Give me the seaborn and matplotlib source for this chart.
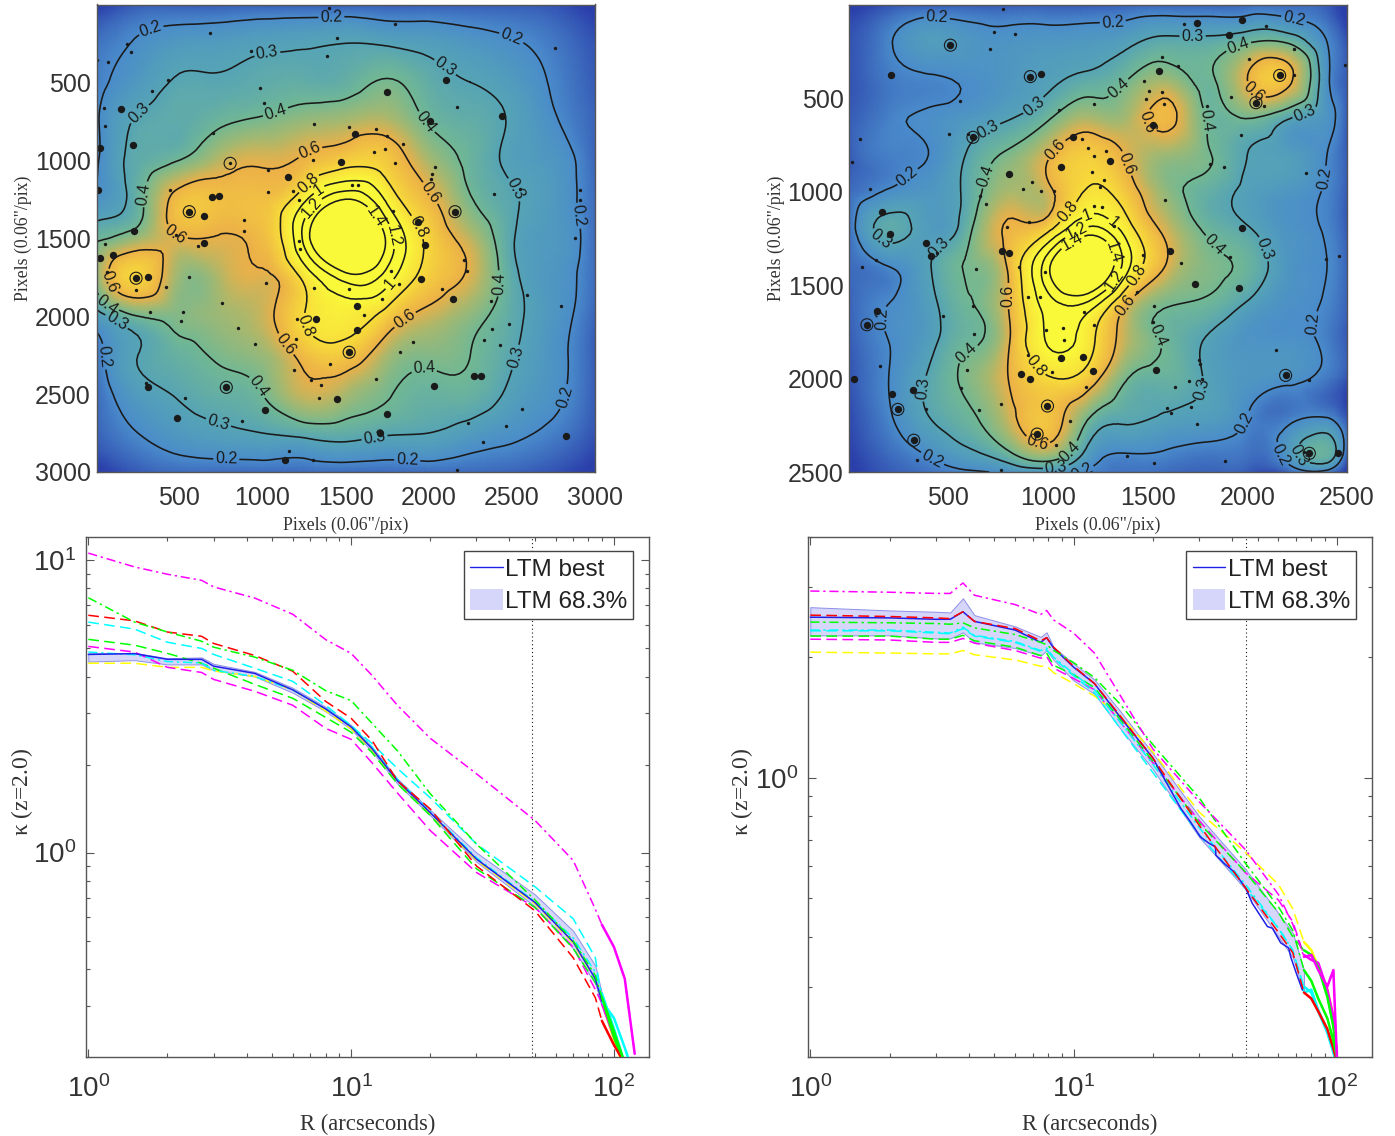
"""Convergence maps and radial kappa profiles for two clusters."""

import matplotlib

matplotlib.use("Agg")

import matplotlib.tri as mtri
import numpy as np
import seaborn as sns
from matplotlib import pyplot as plt
from matplotlib.colors import LinearSegmentedColormap, LogNorm
from matplotlib.patches import Patch
from matplotlib.ticker import FixedLocator, LogFormatterMathtext, LogLocator, NullFormatter

nan = float("nan")

# left map, kappa on a coarse grid
LEFT_X = [0, 250, 500, 750, 1000, 1250, 1500, 1750, 2000, 2250, 2500, 2750, 3000]
LEFT_Y = [0, 250, 500, 750, 1000, 1250, 1500, 1750, 2000, 2250, 2500, 2750, 3000]
LEFT_KAPPA = [
    [.09, .13, .13, .13, .13, .13, .13, .13, .13, .13, .13, .12, .09],
    [.16, .21, .25, .26, .28, .29, .30, .29, .27, .24, .21, .17, .12],
    [.18, .25, .31, .31, .33, .34, .35, .41, .34, .30, .26, .19, .13],
    [.19, .31, .33, .38, .42, .47, .50, .52, .39, .34, .29, .21, .14],
    [.19, .33, .40, .53, .58, .62, .72, .70, .50, .37, .28, .24, .14],
    [.22, .36, .66, .66, .66, .95, 1.40, .95, .63, .41, .31, .25, .15],
    [.38, .48, .59, .59, .65, 1.25, 2.00, 1.35, .75, .53, .31, .25, .15],
    [.45, .75, .47, .52, .58, .85, 1.30, 1.10, .72, .57, .33, .24, .15],
    [.26, .40, .43, .48, .55, .80, .90, .72, .55, .45, .33, .24, .14],
    [.17, .30, .36, .42, .47, .65, .70, .50, .43, .40, .31, .23, .13],
    [.15, .26, .31, .35, .40, .55, .50, .41, .36, .36, .28, .22, .13],
    [.14, .20, .25, .28, .30, .33, .34, .31, .30, .26, .22, .18, .12],
    [.09, .13, .15, .15, .15, .15, .15, .15, .15, .15, .14, .12, .09],
]

# right map, kappa on a coarse grid
RIGHT_X = [0, 200, 400, 600, 800, 1000, 1200, 1400, 1600, 1800, 2000, 2200, 2400, 2500]
RIGHT_Y = [0, 200, 400, 600, 800, 1000, 1200, 1400, 1600, 1800, 2000, 2200, 2400, 2500]
RIGHT_KAPPA = [
    [.09, .12, .13, .13, .13, .13, .13, .14, .14, .14, .15, .15, .13, .09],
    [.12, .19, .26, .24, .23, .24, .25, .28, .33, .33, .39, .39, .20, .12],
    [.12, .17, .19, .21, .24, .28, .33, .40, .48, .38, .60, .65, .22, .13],
    [.13, .18, .21, .24, .29, .38, .50, .50, .64, .39, .41, .32, .23, .13],
    [.13, .18, .20, .31, .42, .58, .72, .58, .48, .41, .30, .27, .20, .13],
    [.15, .21, .24, .33, .50, .56, .82, .68, .45, .35, .28, .24, .19, .13],
    [.15, .33, .26, .37, .62, .75, 1.25, .88, .55, .38, .31, .23, .19, .13],
    [.15, .20, .29, .41, .62, 1.35, 1.90, 1.05, .58, .43, .37, .24, .20, .14],
    [.14, .20, .27, .39, .60, 1.10, 1.15, .59, .41, .38, .29, .22, .19, .14],
    [.13, .20, .27, .38, .58, 1.02, .88, .52, .38, .29, .23, .22, .18, .13],
    [.12, .20, .31, .43, .60, .78, .70, .40, .36, .29, .24, .22, .17, .12],
    [.11, .19, .30, .38, .55, .68, .42, .32, .29, .27, .20, .17, .19, .12],
    [.10, .15, .21, .28, .38, .50, .27, .20, .19, .17, .16, .24, .36, .14],
    [.09, .13, .16, .19, .22, .24, .19, .16, .15, .14, .13, .14, .17, .09],
]

MAP_LEVELS = [0.2, 0.3, 0.4, 0.6, 0.8, 1.0, 1.2, 1.4]

# member galaxies on the left map
LEFT_BIG_X = [2106, 1748, 2438, 2005, 150, 220, 21, 12, 1554, 1474, 1156, 695, 735, 559, 646, 225, 646, 103, 23, 239, 311,
              2158, 1935, 1975, 1952, 2148, 1566, 1322, 1566, 1521, 2270, 2312, 2034, 1446, 309, 782, 1013, 487, 1748,
              1135, 2827, 1706]
LEFT_BIG_Y = [488, 560, 718, 746, 674, 900, 921, 1190, 831, 1009, 1107, 1238, 1232, 1330, 1357, 1457, 1532, 1610, 1626,
              1757, 1746, 1330, 1396, 1543, 1764, 1891, 1936, 2020, 2092, 2232, 2381, 2381, 2446, 2530, 2453, 2457, 2602,
              2654, 2626, 2921, 2768, 2753]
LEFT_SMALL_X = [1402, 1797, 683, 1446, 2757, 931, 70, 5, 206, 187, 1385, 431, 337, 983, 1011, 2169, 47, 51, 1311, 1519,
                1683, 1748, 1846, 700, 1303, 1671, 1737, 1797, 1030, 805, 2036, 2017, 2013, 1573, 1538, 1182, 1217, 1030,
                442, 2392, 2551, 2911, 2911, 2879, 1783, 889, 889, 477, 609, 51, 1217, 1226, 2209, 2232, 1771, 559, 63,
                1020, 421, 239, 1308, 1519, 1823, 2078, 2590, 1720, 2373, 2797, 756, 325, 520, 508, 854, 1608, 1210, 2481,
                2380, 2333, 1203, 952, 1907, 1825, 2431, 1187, 1404, 1292, 1350, 1685, 1339, 531, 297, 2563, 2235, 2462,
                2324, 878, 1158, 1303, 2169]
LEFT_SMALL_Y = [26, 127, 184, 219, 280, 298, 368, 359, 306, 254, 330, 488, 558, 538, 630, 656, 663, 779, 766, 788, 800, 845,
                893, 827, 996, 947, 926, 1017, 1063, 1020, 1046, 1090, 1122, 1162, 1162, 1195, 1252, 1203, 1190, 1217, 1182,
                1192, 1254, 1501, 1324, 1385, 1457, 1479, 1549, 1540, 1518, 1571, 1643, 1713, 1713, 1746, 1720, 1785, 1816,
                1834, 1818, 1827, 1796, 1829, 1866, 1893, 1904, 1932, 1915, 1974, 1976, 2031, 2074, 1991, 2020, 2048, 2081,
                2151, 2144, 2179, 2169, 2228, 2184, 2348, 2309, 2409, 2440, 2403, 2523, 2523, 2429, 2595, 2687, 2702, 2807,
                2670, 2866, 2923, 2989]
LEFT_RING_X = [805, 782, 1521, 239, 2158, 559]
LEFT_RING_Y = [1020, 2457, 2232, 1757, 1330, 1330]

# member galaxies on the right map
RIGHT_BIG_X = [1557, 1527, 1126, 1309, 1064, 802, 2162, 2043, 770, 806, 1735, 1960, 1610, 1974, 1175, 1064, 1225, 866, 911,
               1541, 2192, 945, 997, 2311, 326, 246, 91, 143, 216, 320, 24, 385, 411, 167, 206, 911, 965, 510, 623, 210,
               1910, 1974, 1745, 2456]
RIGHT_BIG_Y = [356, 645, 707, 835, 868, 908, 378, 524, 1316, 1330, 1493, 1517, 1316, 1193, 1886, 1888, 1959, 1977, 2001, 1955,
               1983, 2297, 2147, 2400, 2330, 2165, 1712, 1641, 2083, 2061, 2005, 1276, 1343, 1109, 1224, 384, 369, 216, 709,
               378, 164, 82, 95, 2400]
RIGHT_SMALL_X = [776, 727, 832, 709, 1682, 2093, 2236, 2232, 2490, 2009, 1573, 1650, 1483, 1573, 1580, 1507, 1493, 1918, 1795,
                 2083, 1229, 1056, 556, 504, 600, 58, 18, 1970, 1884, 1811, 1170, 1199, 1229, 1289, 1219, 921, 872, 965, 1031,
                 657, 687, 1259, 1279, 1229, 1272, 905, 796, 1332, 1587, 107, 68, 137, 445, 639, 856, 985, 1477, 1666, 1914,
                 2397, 2460, 2296, 901, 960, 624, 475, 1448, 1533, 1527, 1180, 1229, 991, 1074, 1080, 629, 901, 2145, 1755,
                 1761, 155, 594, 1021, 1706, 2311, 1771, 1636, 564, 1189, 766, 653, 1596, 1616, 1716, 385, 1745, 1110, 1040,
                 1398, 1531, 1890, 766, 342, 2282]
RIGHT_SMALL_Y = [22, 146, 155, 234, 100, 115, 237, 378, 320, 292, 278, 325, 408, 466, 530, 462, 503, 493, 539, 539, 530, 563,
                 515, 689, 691, 716, 841, 698, 868, 850, 718, 764, 810, 780, 895, 950, 983, 996, 996, 1023, 1064, 974, 936,
                 1078, 1082, 1160, 1191, 1182, 1042, 987, 1402, 1365, 1328, 1416, 1404, 1431, 1340, 1383, 1352, 1358, 1343,
                 901, 1563, 1563, 1614, 1663, 1535, 1612, 1696, 1645, 1714, 1740, 1732, 1791, 1763, 1873, 1846, 1901, 1923,
                 1933, 1955, 1965, 2014, 2010, 2001, 2047, 2049, 2047, 2134, 2169, 2160, 2184, 2151, 2165, 2242, 2226, 2357,
                 2416, 2454, 2443, 2487, 2436, 2394]
RIGHT_RING_X = [2192, 945, 997, 2311, 326, 246, 91, 510, 2043, 2162, 911, 623]
RIGHT_RING_Y = [1983, 2297, 2147, 2400, 2330, 2165, 1712, 216, 524, 378, 384, 709]

# contour label anchors, with the level each one belongs to
LEFT_LABEL_X = [318, 1414, 2450, 2923, 2782, 1870, 782, 47, 1046, 2087, 257, 2520, 2544, 1683, 742, 110, 1070, 1952, 285,
                2415, 1970, 1000, 87, 1276, 1959, 512, 1842, 1140, 110, 1222, 1877, 1233, 1343, 1725, 1303, 1736, 1648]
LEFT_LABEL_Y = [131, 94, 346, 1352, 2508, 2939, 2906, 2260, 444, 422, 700, 1188, 2271, 2840, 2654, 2052, 663, 788, 1217,
                1790, 2354, 2435, 1900, 921, 1250, 1418, 1998, 2179, 1768, 1079, 1462, 2074, 1195, 1757, 1308, 1499, 1385]
LEFT_LABEL_LEVEL = [.2, .2, .2, .2, .2, .2, .2, .2, .3, .3, .3, .3, .3, .3, .3, .3, .4, .4, .4, .4, .4, .4, .4,
                    .6, .6, .6, .6, .6, .6, .8, .8, .8, 1.0, 1.0, 1.2, 1.2, 1.4]
RIGHT_LABEL_X = [435, 1325, 2232, 2355, 312, 48, 2368, 409, 1074, 1928, 2162, 485, 1725, 935, 2282, 405, 183, 2053, 401,
                 1771, 1037, 2242, 1364, 1978, 1791, 737, 1789, 1561, 594, 1090, 1402, 1086, 1461, 2020, 1414, 822, 947,
                 1106, 1454, 911, 1180, 1364, 1130, 1344, 1110, 1354]
RIGHT_LABEL_Y = [137, 100, 82, 927, 933, 1691, 1709, 2449, 2495, 2206, 2409, 247, 170, 548, 567, 1246, 1215, 1316, 2056,
                 2056, 2458, 2431, 457, 298, 621, 932, 1334, 1764, 1864, 2370, 846, 822, 634, 484, 1626, 1559, 2343,
                 1115, 1453, 1955, 1087, 1127, 1188, 1480, 1243, 1316]
RIGHT_LABEL_LEVEL = [.2, .2, .2, .2, .2, .2, .2, .2, .2, .2, .2, .3, .3, .3, .3, .3, .3, .3, .3, .3, .3, .3,
                     .4, .4, .4, .4, .4, .4, .4, .4, .6, .6, .6, .6, .6, .6, .6, .8, .8, .8, 1.0, 1.0, 1.2, 1.2, 1.4, 1.4]

# left profile panel
LEFT_R = [1, 1.5, 2, 2.7, 3, 4.3, 6, 8, 10, 12, 15, 20, 30, 50, 70, 85, 90, 100, 110, 120]
LEFT_BEST = [4.76, 4.79, 4.58, 4.58, 4.34, 4.10, 3.60, 3.10, 2.69, 2.27, 1.76, 1.37, 0.95, 0.676, 0.495, 0.37, 0.31, nan, nan, nan]
LEFT_LOW = [4.5, 4.55, 4.4, 4.4, 4.2, 4.0, 3.52, 3.04, 2.64, 2.22, 1.72, 1.34, 0.93, 0.655, 0.47, 0.355, 0.3, nan, nan, nan]
LEFT_HIGH = [4.8, 4.82, 4.62, 4.65, 4.42, 4.15, 3.66, 3.15, 2.73, 2.3, 1.79, 1.4, 1.0, 0.72, 0.54, 0.41, 0.33, nan, nan, nan]
LEFT_MAGENTA_DD = [10.57, 9.48, 8.95, 8.53, 8.1, 7.42, 6.53, 5.35, 4.8, 4.04, 3.19, 2.46, 1.86, 1.29, 0.94, 0.64, 0.567, 0.476, 0.37, 0.205]
LEFT_GREEN_DD = [7.44, 6.14, 5.68, 5.28, 5.04, 4.66, 4.2, 3.58, 3.31, 2.77, 2.23, 1.59, 1.07, 0.69, 0.5, 0.38, 0.32, 0.245, 0.19, nan]
LEFT_RED = [6.48, 6.2, 5.68, 5.49, 5.19, 4.72, 4.17, 3.29, 2.88, 2.42, 1.76, 1.41, 0.9, 0.633, 0.437, 0.319, 0.266, 0.22, 0.19, nan]
LEFT_CYAN = [6.14, 5.81, 5.24, 4.99, 4.76, 4.27, 3.85, 3.19, 2.72, 2.36, 1.94, 1.54, 1.07, 0.765, 0.594, 0.437, 0.31, 0.272, 0.215, 0.17]
LEFT_GREEN = [5.36, 5.12, 4.8, 4.44, 4.27, 3.76, 3.37, 2.9, 2.58, 2.2, 1.72, 1.34, 0.88, 0.65, 0.47, 0.36, 0.32, 0.235, 0.185, nan]
LEFT_MAGENTA = [5.07, 4.85, 4.3, 4.13, 3.91, 3.56, 3.19, 2.66, 2.44, 2.03, 1.6, 1.19, 0.855, 0.65, 0.475, 0.34, 0.305, 0.235, 0.19, nan]
LEFT_YELLOW = [4.44, 4.44, 4.3, 4.3, 4.18, 4.0, 3.6, 3.05, 2.65, 2.25, 1.75, 1.36, 0.94, 0.67, 0.49, 0.37, 0.31, 0.23, 0.18, nan]
LEFT_CYAN_DD = [4.85, 4.75, 4.5, 4.45, 4.2, 4.0, 3.6, 3.1, 2.72, 2.3, 1.78, 1.38, 0.96, 0.68, 0.51, 0.39, 0.33, 0.25, 0.19, nan]

# right profile panel
RIGHT_R = [1, 2, 3, 3.4, 3.8, 4.2, 6, 7.5, 7.9, 8.4, 10, 12, 15, 20, 30, 45, 60, 68, 75, 80, 85, 92, 97, 100]
RIGHT_BEST_R = [1, 2, 3, 3.4, 3.8, 4.2, 6, 7.5, 7.9, 8.4, 10, 12, 15, 20, 25.5, 27.8, 30.3, 32.6, 34.6, 34.7, 37.2, 40.6,
                45, 47.7, 54.5, 56.9, 61.2, 65.6, 66.8, 69.8, 74]
RIGHT_BEST = [2.52, 2.51, 2.49, 2.49, 2.6, 2.46, 2.34, 2.18, 2.24, 2.11, 1.89, 1.72, 1.42, 1.12, 0.839, 0.775, 0.711, 0.686,
              0.671, 0.64, 0.611, 0.582, 0.53, 0.485, 0.424, 0.42, 0.386, 0.375, 0.356, 0.327, 0.294]
RIGHT_HIGH = [2.67, 2.62, 2.6, 2.59, 2.81, 2.55, 2.39, 2.25, 2.31, 2.12, 1.93, 1.76, 1.47, 1.15, 0.8, 0.59, 0.458, 0.409, 0.33, nan, nan, nan, nan, nan]
RIGHT_LOW = [2.27, 2.27, 2.23, 2.23, 2.31, 2.18, 2.11, 2.02, 2.08, 1.97, 1.75, 1.62, 1.33, 1.05, 0.71, 0.525, 0.4, 0.355, 0.29, nan, nan, nan, nan, nan]
RIGHT_MAGENTA_DD = [2.93, 2.91, 2.89, 2.89, 3.07, 2.86, 2.71, 2.56, 2.62, 2.48, 2.3, 2.05, 1.61, 1.18, 0.87, 0.66, 0.51, 0.43, 0.356, 0.36, 0.33, 0.3, 0.33, 0.2]
RIGHT_YELLOW = [2.06, 2.05, 2.04, 2.04, 2.08, 2.03, 1.97, 1.9, 1.9, 1.83, 1.72, 1.6, 1.43, 1.16, 0.82, 0.65, 0.54, 0.47, 0.388, 0.37, 0.336, 0.295, 0.252, 0.204]
RIGHT_MAGENTA = [2.22, 2.21, 2.18, 2.18, 2.23, 2.17, 2.08, 1.99, 2.01, 1.88, 1.77, 1.66, 1.38, 1.09, 0.78, 0.578, 0.494, 0.436, 0.36, 0.35, 0.344, 0.295, 0.252, 0.205]
RIGHT_GREEN = [2.26, 2.26, 2.22, 2.22, 2.27, 2.2, 2.12, 2.02, 2.05, 1.91, 1.81, 1.68, 1.4, 1.1, 0.77, 0.58, 0.46, 0.4, 0.37, 0.36, 0.335, 0.283, 0.238, 0.2]
RIGHT_GREEN_DD = [2.45, 2.44, 2.43, 2.42, 2.44, 2.37, 2.28, 2.18, 2.15, 2.08, 1.94, 1.78, 1.53, 1.21, 0.89, 0.61, 0.475, 0.415, 0.33, 0.31, 0.28, 0.25, 0.22, 0.2]
RIGHT_CYAN_DD = [2.34, 2.34, 2.31, 2.3, 2.38, 2.27, 2.19, 2.08, 2.11, 2.0, 1.82, 1.66, 1.38, 1.08, 0.75, 0.54, 0.42, 0.37, 0.29, 0.295, 0.262, 0.233, 0.208, 0.19]
RIGHT_CYAN = [2.33, 2.33, 2.3, 2.29, 2.36, 2.26, 2.18, 2.07, 2.09, 1.99, 1.8, 1.63, 1.33, 1.03, 0.72, 0.53, 0.42, 0.37, 0.3, 0.29, 0.26, 0.23, 0.205, 0.19]
RIGHT_RED = [2.55, 2.53, 2.51, 2.5, 2.6, 2.46, 2.36, 2.2, 2.24, 2.12, 1.9, 1.72, 1.43, 1.12, 0.76, 0.53, 0.41, 0.365, 0.29, 0.28, 0.26, 0.235, 0.21, 0.195]

DASH = (0, (7, 3.5))
DASH_DOT = (0, (6, 2.5, 1.5, 2.5))

FIG_W, FIG_H = 1395, 1136
SERIF = "Liberation Serif"

KAPPA_CMAP = LinearSegmentedColormap.from_list(
    "kappa",
    [(0.0, "#2b3fab"), (0.30, "#4a8ccb"), (0.477, "#56a4b6"), (0.60, "#72b894"),
     (0.70, "#a8b86e"), (0.78, "#ecb048"), (0.90, "#f8dc3a"), (1.0, "#f9f93a")],
)


def add_axes(fig, left, top, right, bottom):
    """Axes from pixel edges of the figure."""
    return fig.add_axes([left / FIG_W, 1 - bottom / FIG_H, (right - left) / FIG_W, (bottom - top) / FIG_H])


def style_frame(ax):
    ax.tick_params(which="both", direction="in", top=True, right=True, color="#555555", width=0.8)
    for spine in ax.spines.values():
        spine.set_visible(True)
        spine.set_color("#555555")
        spine.set_linewidth(1.0)


def draw_map(ax, xs, ys, grid, big, small, rings, labels, extent, ticks):
    xx, yy = np.meshgrid(xs, ys)
    tri = mtri.Triangulation(xx.ravel(), yy.ravel())
    fine_tri, fine_z = mtri.UniformTriRefiner(tri).refine_field(np.array(grid).ravel(), subdiv=3)
    norm = LogNorm(0.1, 1.0, clip=True)

    ax.tripcolor(fine_tri, fine_z, shading="gouraud", cmap=KAPPA_CMAP, norm=norm, rasterized=True)

    sns.scatterplot(x=big[0], y=big[1], s=28, color="k", linewidth=0, legend=False, ax=ax)
    sns.scatterplot(x=small[0], y=small[1], s=6, color="k", linewidth=0, legend=False, ax=ax)
    sns.scatterplot(x=rings[0], y=rings[1], s=75, facecolor="none", edgecolor="k", linewidth=0.8, legend=False, ax=ax)

    ax.set_xlim(1, extent)
    ax.set_ylim(extent, 1)
    ax.set_xticks(ticks)
    ax.set_yticks(ticks)

    # one contour set per level, so each label anchor stays on its own level
    for level in MAP_LEVELS:
        contour = ax.tricontour(fine_tri, fine_z, levels=[level], colors="k", linewidths=1.15, linestyles="solid")
        spots = [(x, y) for x, y, lev in zip(*labels) if lev == level]
        ax.clabel(contour, fmt="%g", fontsize=11.5, manual=spots, inline=True, inline_spacing=2)

    ax.tick_params(labelsize=18, length=4)
    ax.tick_params(axis="x", pad=10)
    ax.tick_params(axis="y", pad=4)
    style_frame(ax)
    ax.set_xlabel('Pixels (0.06"/pix)', family=SERIF, fontsize=12.8, color="#333333")
    ax.set_ylabel('Pixels (0.06"/pix)', family=SERIF, fontsize=12.8, color="#333333")
    ax.xaxis.set_label_coords(0.5, -0.096)
    ax.yaxis.set_label_coords(-0.129, 0.5)


def draw_profile(ax, radius, best_radius, best, low, high, curves, vline, ylim, major_y, label_x, tail_from, legend_x):
    ax.set_xscale("log")
    ax.set_yscale("log")
    radius = np.array(radius)
    tail = radius >= tail_from

    def draw_curve(values, color, style):
        values = np.array(values)
        sns.lineplot(x=radius, y=values, color=color, linestyle=style, linewidth=1.1, errorbar=None, ax=ax, zorder=3)
        # past this radius the sampling is so dense that the dashes close up
        sns.lineplot(x=radius[tail], y=values[tail], color=color, linewidth=1.8, errorbar=None, ax=ax, zorder=3)

    ax.fill_between(radius, low, high, color="#d6d6fb", edgecolor="#8f8fe8", linewidth=0.7, zorder=2)
    for values, color, style in curves[:-3]:
        draw_curve(values, color, style)
    sns.lineplot(x=best_radius, y=best, color="#2020e6", linewidth=1.1, errorbar=None, ax=ax, zorder=3)
    for values, color, style in curves[-3:]:
        draw_curve(values, color, style)
    ax.axvline(vline, color="k", linestyle=(0, (1, 2.5)), linewidth=0.8, zorder=1)

    ax.set_xlim(0.98, 136)
    ax.set_ylim(*ylim)
    ax.xaxis.set_major_locator(FixedLocator([1, 10, 100]))
    ax.xaxis.set_major_formatter(LogFormatterMathtext())
    ax.xaxis.set_minor_locator(LogLocator(base=10, subs=np.arange(2, 10), numticks=12))
    ax.xaxis.set_minor_formatter(NullFormatter())
    ax.yaxis.set_major_locator(FixedLocator(major_y))
    ax.yaxis.set_major_formatter(LogFormatterMathtext())
    ax.yaxis.set_minor_locator(LogLocator(base=10, subs=np.arange(2, 10), numticks=12))
    ax.yaxis.set_minor_formatter(NullFormatter())

    ax.tick_params(which="major", labelsize=20, length=6)
    ax.tick_params(which="minor", length=3)
    ax.tick_params(axis="x", which="major", pad=13)
    ax.tick_params(axis="y", which="major", pad=7)
    style_frame(ax)

    ax.set_xlabel("R (arcseconds)", family=SERIF, fontsize=16.3, color="#333333")
    ax.set_ylabel(r"$\kappa$ (z=2.0)", family=SERIF, fontsize=17, color="#333333")
    ax.xaxis.set_label_coords(0.5, -0.11)
    ax.yaxis.set_label_coords(label_x, 0.51)

    handles = [plt.Line2D([], [], color="#2020e6", linewidth=1.0), Patch(facecolor="#d6d6fb", edgecolor="none")]
    ax.legend(
        handles, ["LTM best", "LTM 68.3%"], loc="upper left", bbox_to_anchor=(legend_x, 0.973), borderaxespad=0,
        fontsize=17.5, fancybox=False, framealpha=1, edgecolor="#444444", borderpad=0.25, labelspacing=0.3,
        handlelength=1.35, handletextpad=0.1, handleheight=1.0,
    )


sns.set_theme(style="ticks")
plt.rcParams["font.family"] = ["Liberation Sans", "DejaVu Sans"]
plt.rcParams["mathtext.fontset"] = "stix"
plt.rcParams["mathtext.default"] = "regular"
plt.rcParams["text.color"] = "#222222"
plt.rcParams["xtick.labelcolor"] = "#333333"
plt.rcParams["ytick.labelcolor"] = "#333333"

fig = plt.figure(figsize=(FIG_W / 100, FIG_H / 100), dpi=100)

ax_map_left = add_axes(fig, 96.5, 4.5, 595, 472)
draw_map(ax_map_left, LEFT_X, LEFT_Y, LEFT_KAPPA, (LEFT_BIG_X, LEFT_BIG_Y), (LEFT_SMALL_X, LEFT_SMALL_Y),
         (LEFT_RING_X, LEFT_RING_Y), (LEFT_LABEL_X, LEFT_LABEL_Y, LEFT_LABEL_LEVEL), 3000,
         [500, 1000, 1500, 2000, 2500, 3000])

ax_map_right = add_axes(fig, 849, 5, 1347, 472)
draw_map(ax_map_right, RIGHT_X, RIGHT_Y, RIGHT_KAPPA, (RIGHT_BIG_X, RIGHT_BIG_Y), (RIGHT_SMALL_X, RIGHT_SMALL_Y),
         (RIGHT_RING_X, RIGHT_RING_Y), (RIGHT_LABEL_X, RIGHT_LABEL_Y, RIGHT_LABEL_LEVEL), 2500,
         [500, 1000, 1500, 2000, 2500])

ax_prof_left = add_axes(fig, 86, 537, 649, 1057)
draw_profile(
    ax_prof_left, LEFT_R, LEFT_R, LEFT_BEST, LEFT_LOW, LEFT_HIGH,
    [(LEFT_YELLOW, "#ffff00", DASH), (LEFT_MAGENTA, "#ff00ff", DASH), (LEFT_GREEN, "#00ff00", DASH),
     (LEFT_CYAN, "#00ffff", DASH), (LEFT_CYAN_DD, "#00ffff", DASH_DOT),
     (LEFT_RED, "#ff0000", DASH), (LEFT_GREEN_DD, "#00ff00", DASH_DOT), (LEFT_MAGENTA_DD, "#ff00ff", DASH_DOT)],
    48.6, (0.2, 12), [1, 10], -0.091, 90, 0.671,
)

ax_prof_right = add_axes(fig, 808, 537, 1372, 1057)
draw_profile(
    ax_prof_right, RIGHT_R, RIGHT_BEST_R, RIGHT_BEST, RIGHT_LOW, RIGHT_HIGH,
    [(RIGHT_YELLOW, "#ffff00", DASH), (RIGHT_MAGENTA, "#ff00ff", DASH), (RIGHT_GREEN, "#00ff00", DASH),
     (RIGHT_CYAN, "#00ffff", DASH), (RIGHT_CYAN_DD, "#00ffff", DASH_DOT),
     (RIGHT_RED, "#ff0000", DASH), (RIGHT_GREEN_DD, "#00ff00", DASH_DOT), (RIGHT_MAGENTA_DD, "#ff00ff", DASH_DOT)],
    45, (0.2, 4), [1], -0.094, 75, 0.671,
)

fig.savefig("out.png", dpi=100, facecolor="white")
